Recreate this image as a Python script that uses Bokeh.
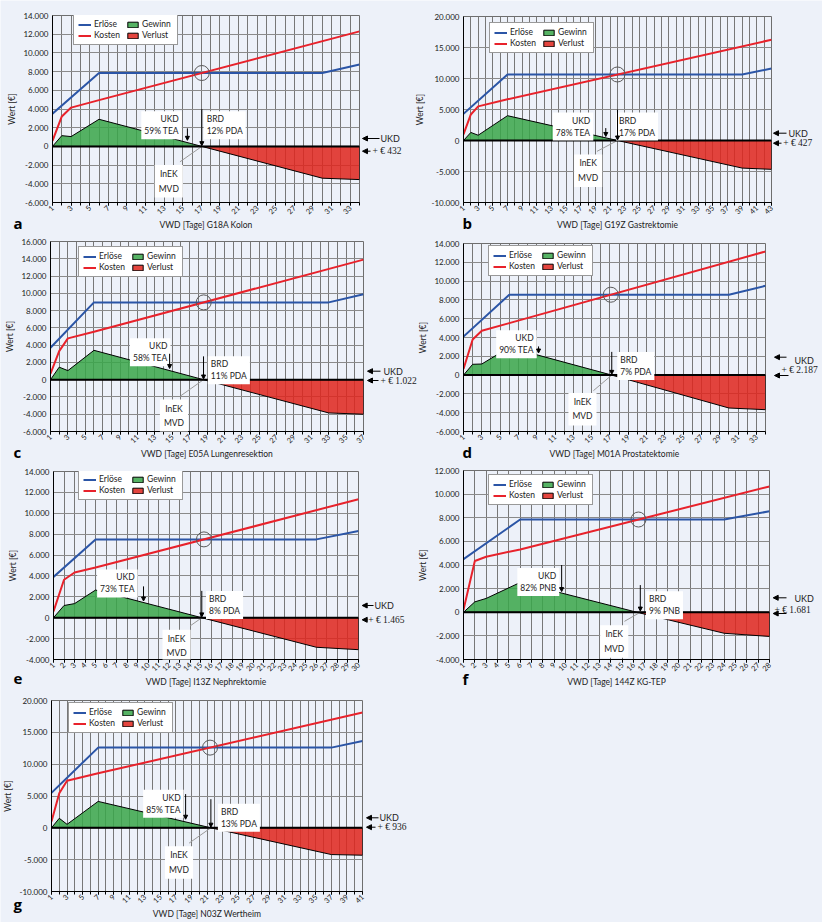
import math
import numpy as np
from bokeh.plotting import figure
from bokeh.models import (FixedTicker, Range1d, Label, Arrow, NormalHead, Span,
                          Legend, LegendItem, GridBox)
from bokeh.embed import file_html
from bokeh.resources import INLINE
from bokeh.core.properties import value

# ---------------------------------------------------------------- data
# a: G18A Kolon
A_NDAYS = 34
A_ERL_X = [1, 6, 30, 34]
A_ERL_Y = [3500, 7850, 7850, 8750]
A_KOS_X = [1, 2, 3, 6, 34]
A_KOS_Y = [600, 3200, 4150, 4950, 12300]
A_SAL_X = [1, 2, 3, 6, 17.05, 30, 34]
A_SAL_Y = [0, 1150, 1050, 2900, 0, -3400, -3550]
A_YTICKS = [-6000, -4000, -2000, 0, 2000, 4000, 6000, 8000, 10000, 12000, 14000]
A_XLABELS = [1, 3, 5, 7, 9, 11, 13, 15, 17, 19, 21, 23, 25, 27, 29, 31, 33]
A_TEXTS = ["UKD\n59% TEA", "BRD\n12% PDA", "+ € 432", "VWD [Tage] G18A Kolon", "a"]

# b: G19Z Gastrektomie
B_NDAYS = 43
B_ERL_X = [1, 7, 39, 43]
B_ERL_Y = [4300, 10650, 10650, 11600]
B_KOS_X = [1, 2, 3, 7, 43]
B_KOS_Y = [1000, 4200, 5500, 6650, 16250]
B_SAL_X = [1, 2, 3, 7, 22, 39, 43]
B_SAL_Y = [0, 1300, 850, 4000, 0, -4450, -4650]
B_YTICKS = [-10000, -5000, 0, 5000, 10000, 15000, 20000]
B_XLABELS = [1, 3, 5, 7, 9, 11, 13, 15, 17, 19, 21, 23, 25, 27, 29, 31, 33, 35, 37, 39, 41, 43]
B_TEXTS = ["UKD\n78% TEA", "BRD\n17% PDA", "+ € 427", "VWD [Tage] G19Z Gastrektomie", "b"]

# c: E05A Lungenresektion
C_NDAYS = 37
C_ERL_X = [1, 6, 33, 37]
C_ERL_Y = [3700, 8950, 8950, 9900]
C_KOS_X = [1, 2, 3, 6, 37]
C_KOS_Y = [700, 3300, 4780, 5550, 13900]
C_SAL_X = [1, 2, 3, 6, 18.6, 33, 37]
C_SAL_Y = [0, 1450, 1050, 3400, 0, -3850, -4000]
C_YTICKS = [-6000, -4000, -2000, 0, 2000, 4000, 6000, 8000, 10000, 12000, 14000, 16000]
C_XLABELS = [1, 3, 5, 7, 9, 11, 13, 15, 17, 19, 21, 23, 25, 27, 29, 31, 33, 35, 37]
C_TEXTS = ["UKD\n58% TEA", "BRD\n11% PDA", "+ € 1.022", "VWD [Tage] E05A Lungenresektion", "c"]

# d: M01A Prostatektomie
D_NDAYS = 34
D_ERL_X = [1, 6, 30, 34]
D_ERL_Y = [4100, 8550, 8550, 9500]
D_KOS_X = [1, 2, 3, 6, 34]
D_KOS_Y = [650, 3780, 4710, 5530, 13150]
D_SAL_X = [1, 2, 3, 6, 17.2, 30, 34]
D_SAL_Y = [0, 1150, 1180, 2950, 0, -3500, -3680]
D_YTICKS = [-6000, -4000, -2000, 0, 2000, 4000, 6000, 8000, 10000, 12000, 14000]
D_XLABELS = [1, 3, 5, 7, 9, 11, 13, 15, 17, 19, 21, 23, 25, 27, 29, 31, 33]
D_TEXTS = ["UKD\n90% TEA", "BRD\n7% PDA", "+ € 2.187", "VWD [Tage] M01A Prostatektomie", "d"]

# e: I13Z Nephrektomie
E_NDAYS = 30
E_ERL_X = [1, 5, 26, 30]
E_ERL_Y = [3900, 7500, 7500, 8300]
E_KOS_X = [1, 2, 3, 5, 30]
E_KOS_Y = [600, 3640, 4330, 4800, 11350]
E_SAL_X = [1, 2, 3, 5, 15.1, 26, 30]
E_SAL_Y = [0, 1170, 1350, 2650, 0, -2830, -3060]
E_YTICKS = [-4000, -2000, 0, 2000, 4000, 6000, 8000, 10000, 12000, 14000]
E_XLABELS = list(range(1, 31))
E_TEXTS = ["UKD\n73% TEA", "BRD\n8% PDA", "+ € 1.465", "VWD [Tage] I13Z Nephrektomie", "e"]

# f: 144Z KG-TEP
F_NDAYS = 28
F_ERL_X = [1, 6, 24, 28]
F_ERL_Y = [4500, 7850, 7850, 8550]
F_KOS_X = [1, 2, 3, 6, 28]
F_KOS_Y = [200, 4340, 4700, 5320, 10650]
F_SAL_X = [1, 2, 3, 6, 16.3, 24, 28]
F_SAL_Y = [0, 880, 1170, 2520, 0, -1780, -2050]
F_YTICKS = [-4000, -2000, 0, 2000, 4000, 6000, 8000, 10000, 12000]
F_XLABELS = list(range(1, 29))
F_TEXTS = ["UKD\n82% PNB", "BRD\n9% PNB", "+ € 1.681", "VWD [Tage] 144Z KG-TEP", "f"]

# g: N03Z Wertheim
G_NDAYS = 41
G_ERL_X = [1, 7, 37, 41]
G_ERL_Y = [5500, 12600, 12600, 13650]
G_KOS_X = [1, 2, 3, 7, 41]
G_KOS_Y = [1000, 5420, 7410, 8560, 18100]
G_SAL_X = [1, 2, 3, 7, 21.5, 37, 41]
G_SAL_Y = [0, 1500, 550, 4150, 0, -4200, -4300]
G_YTICKS = [-10000, -5000, 0, 5000, 10000, 15000, 20000]
G_XLABELS = [1, 3, 5, 7, 9, 11, 13, 15, 17, 19, 21, 23, 25, 27, 29, 31, 33, 35, 37, 39, 41]
G_TEXTS = ["UKD\n85% TEA", "BRD\n13% PDA", "+ € 936", "VWD [Tage] N03Z Wertheim", "g"]

LEGEND_LABELS = ["Erlöse", "Kosten", "Gewinn", "Verlust"]
Y_LABEL = "Wert [€]"
INEK_TEXT = "InEK\nMVD"
UKD_TEXT = "UKD"

# ---------------------------------------------------------------- style / layout
FONT = "Lato"
BG = "#edf1f9"
BLUE = "#2b55a6"
RED = "#e8222b"
GREEN = "#3aa64a"
LOSS = "#e0271e"
PAGE_W, PAGE_H = 822, 922
FIG_W = 411

# origin (page x, page y, height), frame (left, top, right, bottom) in page px.
# anchors inside the frame are data units; r_* and letter are page px.
LAYOUT = {
    "a": dict(cell=(0, 0), origin=(0, 0, 232), frame=(52, 15, 359, 204), legend=(73, 47), letter=(13, 222),
              ukd=(14.9, 3750), ukd_arr=(15.5, 1930, 650), brd=(17.25, 3750), brd_arr=(17.05, 4000, 80),
              inek=(13.5, -2000), leader=(14.7, -1650),
              r_ukd=(379, 362, 138), r_ukd_t=(380, 138), r_plus=(370, 362, 150.7), r_plus_t=(372, 150.7)),
    "b": dict(cell=(0, 1), origin=(411, 0, 232), frame=(463, 16, 771, 204), legend=(489, 55), letter=(462, 222),
              ukd=(18.7, 4500), ukd_arr=(20.4, 2000, 650), brd=(21.8, 4500), brd_arr=(22.0, 5000, 80),
              inek=(18.0, -2250), leader=(19.2, -1750),
              r_ukd=(786, 773, 132.7), r_ukd_t=(788, 132.7), r_plus=(781, 773, 142.7), r_plus_t=(782.7, 142.7)),
    "c": dict(cell=(1, 0), origin=(0, 232, 229), frame=(50, 241, 363, 432), legend=(78, 278), letter=(13, 451),
              ukd=(14.8, 4800), ukd_arr=(14.7, 3000, 1300), brd=(19.1, 2700), brd_arr=(18.6, 2700, 80),
              inek=(15.2, -2300), leader=(16.0, -1850),
              r_ukd=(380, 367, 370.7), r_ukd_t=(383, 370.7), r_plus=(378, 367, 380), r_plus_t=(380, 380)),
    "d": dict(cell=(1, 1), origin=(411, 232, 229), frame=(463, 243, 765, 431), legend=(488, 276), letter=(462, 451),
              ukd=(9.0, 4780), ukd_arr=(9.2, 3050, 2350), brd=(17.8, 2470), brd_arr=(17.2, 2470, 80),
              inek=(14.0, -1900), leader=(15.2, -1650),
              r_ukd=(786, 774, 356.7), r_ukd_t=(794, 360), r_plus=(788, 774, 375), r_plus_t=(781, 369)),
    "e": dict(cell=(2, 0), origin=(0, 461, 228), frame=(53, 471, 358, 661), legend=(78, 502), letter=(13, 678),
              ukd=(9.0, 4620), ukd_arr=(9.56, 3000, 1600), brd=(15.5, 2570), brd_arr=(15.1, 2570, 80),
              inek=(12.7, -1160), leader=(14.0, -780),
              r_ukd=(373, 361.7, 605), r_ukd_t=(374, 605), r_plus=(367, 361.7, 619.3), r_plus_t=(367.7, 619.3)),
    "f": dict(cell=(2, 1), origin=(411, 461, 228), frame=(463, 470, 769, 660), legend=(488, 506), letter=(462, 678),
              ukd=(9.45, 3750), ukd_arr=(9.66, 4000, 1750), brd=(17.1, 1780), brd_arr=(16.6, 2300, 100),
              inek=(14.3, -1110), leader=(15.2, -770),
              r_ukd=(786, 772.7, 597.3), r_ukd_t=(794, 598), r_plus=(786, 772.7, 613), r_plus_t=(774, 609)),
    "g": dict(cell=(3, 0), origin=(0, 689, 233), frame=(51, 700, 362, 891), legend=(68, 733), letter=(13, 903),
              ukd=(18.0, 6000), ukd_arr=(18.25, 5300, 1350), brd=(22.4, 3800), brd_arr=(21.5, 4500, 100),
              inek=(17.4, -2900), leader=(18.7, -2400),
              r_ukd=(378, 366, 817.3), r_ukd_t=(379, 817.3), r_plus=(375, 366, 826.7), r_plus_t=(377, 826.7)),
}

DATA = {
    "a": (A_NDAYS, A_ERL_X, A_ERL_Y, A_KOS_X, A_KOS_Y, A_SAL_X, A_SAL_Y, A_YTICKS, A_XLABELS, A_TEXTS),
    "b": (B_NDAYS, B_ERL_X, B_ERL_Y, B_KOS_X, B_KOS_Y, B_SAL_X, B_SAL_Y, B_YTICKS, B_XLABELS, B_TEXTS),
    "c": (C_NDAYS, C_ERL_X, C_ERL_Y, C_KOS_X, C_KOS_Y, C_SAL_X, C_SAL_Y, C_YTICKS, C_XLABELS, C_TEXTS),
    "d": (D_NDAYS, D_ERL_X, D_ERL_Y, D_KOS_X, D_KOS_Y, D_SAL_X, D_SAL_Y, D_YTICKS, D_XLABELS, D_TEXTS),
    "e": (E_NDAYS, E_ERL_X, E_ERL_Y, E_KOS_X, E_KOS_Y, E_SAL_X, E_SAL_Y, E_YTICKS, E_XLABELS, E_TEXTS),
    "f": (F_NDAYS, F_ERL_X, F_ERL_Y, F_KOS_X, F_KOS_Y, F_SAL_X, F_SAL_Y, F_YTICKS, F_XLABELS, F_TEXTS),
    "g": (G_NDAYS, G_ERL_X, G_ERL_Y, G_KOS_X, G_KOS_Y, G_SAL_X, G_SAL_Y, G_YTICKS, G_XLABELS, G_TEXTS),
}


def fmt_de(v):
    return f"{v:,}".replace(",", ".")


def add_label(p, text, x, y, align="left", baseline="top", size="8.5px", font=FONT, bg=None, pad=0,
              lh=1.2, angle=0, style="normal", color="#222"):
    kw = dict(x=x, y=y, text=text, text_align=align, text_baseline=baseline, text_font=font,
              text_font_size=size, text_color=color, text_line_height=lh, angle=angle,
              text_font_style=style)
    if bg is not None:
        kw.update(background_fill_color=bg, background_fill_alpha=1, padding=pad)
    p.add_layout(Label(**kw))


def add_arrow(p, x0, y0, x1, y1, size=5):
    p.add_layout(Arrow(end=NormalHead(size=size, fill_color="black", line_color="black", line_width=1),
                       x_start=x0, y_start=y0, x_end=x1, y_end=y1, line_color="black", line_width=1))


def build(key):
    ndays, erl_x, erl_y, kos_x, kos_y, sal_x, sal_y, yticks, xlabels, texts = DATA[key]
    L = LAYOUT[key]
    ox, oy, H = L["origin"]
    fl, ft, fr, fb = L["frame"]
    ukd_text, brd_text, plus_text, title_text, letter = texts

    p = figure(width=FIG_W, height=H, output_backend="svg", toolbar_location=None, title=None,
               x_range=Range1d(1, ndays), y_range=Range1d(yticks[0], yticks[-1]),
               min_border_left=fl - ox, min_border_right=ox + FIG_W - fr,
               min_border_top=ft - oy, min_border_bottom=oy + H - fb,
               background_fill_color=BG, background_fill_alpha=0,
               border_fill_color=BG, border_fill_alpha=0,
               outline_line_color="#6e6e6e", frame_align=False)

    days = list(range(1, ndays + 1))
    xa = p.xaxis[0]
    xa.ticker = FixedTicker(ticks=xlabels, minor_ticks=days)
    xa.major_label_orientation = math.pi / 4
    xa.major_tick_out = 3
    xa.major_tick_in = 0
    xa.minor_tick_out = 3
    xa.minor_tick_in = 0
    xa.major_label_standoff = 1
    xa.major_label_text_font = FONT
    xa.major_label_text_font_size = "7.5px"
    xa.major_label_text_color = "#222"
    xa.axis_line_color = "black"
    xa.major_tick_line_color = "black"
    xa.minor_tick_line_color = "black"
    xa.axis_label = title_text
    xa.axis_label_standoff = 0
    xa.axis_label_text_font = FONT
    xa.axis_label_text_font_size = "8.5px"
    xa.axis_label_text_font_style = "normal"
    xa.axis_label_text_color = "#222"

    ya = p.yaxis[0]
    ya.ticker = FixedTicker(ticks=yticks)
    ya.major_label_overrides = {t: fmt_de(t) for t in yticks}
    ya.major_tick_out = 0
    ya.major_tick_in = 0
    ya.minor_tick_out = 0
    ya.minor_tick_in = 0
    ya.major_label_standoff = 4
    ya.major_label_text_font = FONT
    ya.major_label_text_font_size = "8px"
    ya.major_label_text_color = "#222"
    ya.axis_line_color = "black"
    ya.axis_label = Y_LABEL
    ya.axis_label_standoff = 3
    ya.axis_label_text_font = FONT
    ya.axis_label_text_font_size = "8.5px"
    ya.axis_label_text_font_style = "normal"
    ya.axis_label_text_color = "#222"

    p.xgrid.grid_line_color = "#777777"
    p.xgrid.minor_grid_line_color = "#777777"
    p.ygrid.grid_line_color = "#8a8a8a"

    # profit / loss areas
    zi = sal_y.index(0, 1)
    gx, gy = sal_x[:zi + 1], sal_y[:zi + 1]
    rx, ry = sal_x[zi:] + [sal_x[-1]], sal_y[zi:] + [0]
    r_g = p.patch(gx, gy, fill_color=GREEN, fill_alpha=0.86, line_color="black", line_width=1)
    r_r = p.patch(rx, ry, fill_color=LOSS, fill_alpha=0.86, line_color="black", line_width=1)
    p.add_layout(Span(location=0, dimension="width", line_color="black", line_width=2))

    r_e = p.line(erl_x, erl_y, line_color=BLUE, line_width=2)
    r_k = p.line(kos_x, kos_y, line_color=RED, line_width=2)

    # intersection of Erlöse and Kosten
    xx = np.linspace(1, ndays, 4001)
    diff = np.interp(xx, erl_x, erl_y) - np.interp(xx, kos_x, kos_y)
    i = int(np.where((diff[:-1] > 0) & (diff[1:] <= 0))[0][0])
    cx = float(xx[i])
    cy = float(np.interp(cx, erl_x, erl_y))
    p.scatter([cx], [cy], marker="circle", size=15, fill_color=None, line_color="#5a5a5a", line_width=1)

    # leader line from InEK box to break-even point
    lx, ly = L["leader"]
    bx = L["brd_arr"][0]
    p.segment(x0=[lx], y0=[ly], x1=[bx], y1=[0], line_color="#9a9a9a", line_width=1)

    leg = Legend(items=[LegendItem(label=value(LEGEND_LABELS[0]), renderers=[r_e]),
                        LegendItem(label=value(LEGEND_LABELS[1]), renderers=[r_k]),
                        LegendItem(label=value(LEGEND_LABELS[2]), renderers=[r_g]),
                        LegendItem(label=value(LEGEND_LABELS[3]), renderers=[r_r])],
                 location=(L["legend"][0] - fl, fb - L["legend"][1]), nrows=2,
                 label_text_font=FONT, label_text_font_size="8.5px", label_text_color="#222",
                 glyph_width=13, glyph_height=7, label_standoff=3, label_height=10, label_width=31,
                 padding=4, spacing=1, margin=0,
                 border_line_color="#333", border_line_width=1,
                 background_fill_color="white", background_fill_alpha=1)
    p.add_layout(leg)

    add_label(p, ukd_text, L["ukd"][0], L["ukd"][1], align="right", bg="white", pad=3)
    add_label(p, brd_text, L["brd"][0], L["brd"][1], align="left", bg="white", pad=3)
    add_label(p, INEK_TEXT, L["inek"][0], L["inek"][1], align="center", bg="white", pad=4, lh=1.45)
    ux, uy0, uy1 = L["ukd_arr"]
    add_arrow(p, ux, uy0, ux, uy1, size=4)
    bx, by0, by1 = L["brd_arr"]
    add_arrow(p, bx, by0, bx, by1, size=4)
    return p


# page-sized backdrop (placed under the panels) carrying the marks outside the plot frames
ov = figure(width=PAGE_W, height=PAGE_H, output_backend="svg", toolbar_location=None, title=None,
            x_range=Range1d(0, PAGE_W), y_range=Range1d(PAGE_H, 0),
            x_axis_type=None, y_axis_type=None,
            min_border_left=0, min_border_right=0, min_border_top=0, min_border_bottom=0,
            outline_line_color=None, background_fill_color=BG, border_fill_color=BG,
            frame_align=False)

for key in "abcdefg":
    L = LAYOUT[key]
    texts = DATA[key][-1]
    a0, a1, ay = L["r_ukd"]
    add_arrow(ov, a0, ay, a1, ay, size=5)
    add_label(ov, UKD_TEXT, L["r_ukd_t"][0], L["r_ukd_t"][1], baseline="middle", size="9px")
    a0, a1, ay = L["r_plus"]
    add_arrow(ov, a0, ay, a1, ay, size=5)
    add_label(ov, texts[2], L["r_plus_t"][0], L["r_plus_t"][1], baseline="middle", size="9.5px",
              font="Liberation Serif")
    add_label(ov, texts[4], L["letter"][0], L["letter"][1], baseline="middle", size="15px",
              font="Open Sans", style="bold", color="black")

figs = {k: build(k) for k in "abcdefg"}
children = [(ov, 0, 0, 4, 2)]
children += [(figs[k], LAYOUT[k]["cell"][0], LAYOUT[k]["cell"][1]) for k in "abcdefg"]
grid = GridBox(children=children, spacing=0)

html = file_html(grid, INLINE).replace("<body>", '<body style="background-color:#edf1f9;">', 1)
open("out.html", "w").write(html)
